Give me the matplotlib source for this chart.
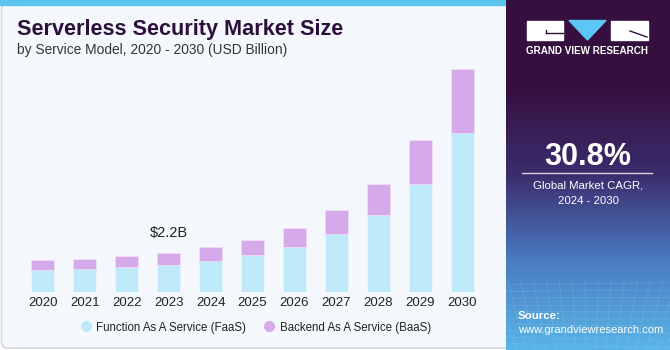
import numpy as np
import matplotlib.pyplot as plt
from matplotlib.patches import Rectangle, Polygon, FancyBboxPatch

plt.rcParams['font.family'] = ['Liberation Sans', 'DejaVu Sans']

years = ['2020', '2021', '2022', '2023', '2024', '2025', '2026', '2027', '2028', '2029', '2030']
faas = [1.21, 1.28, 1.38, 1.51, 1.73, 2.06, 2.53, 3.24, 4.33, 6.07, 8.97]
baas = [0.56, 0.58, 0.64, 0.69, 0.77, 0.88, 1.07, 1.36, 1.77, 2.48, 3.59]
series_names = ['Function As A Service (FaaS)', 'Backend As A Service (BaaS)']
colors = ['#bde9f8', '#d5a9ea']
callout_year = '2023'
callout_text = '$2.2B'

W, H = 670, 350
fig = plt.figure(figsize=(W / 100, H / 100), dpi=100)

# background drawn in pixel coordinates
bg = fig.add_axes([0, 0, 1, 1], zorder=0)
bg.set_xlim(0, W)
bg.set_ylim(H, 0)
bg.axis('off')
bg.add_patch(Rectangle((0, 0), W, H, color='white'))
bg.add_patch(FancyBboxPatch((1.5, 3), 510, 345, boxstyle='round,pad=0,rounding_size=6',
                            facecolor='#f4f8fc', edgecolor='#d5d9dd', lw=1.2))
bg.add_patch(Rectangle((0, 0), 505, 4.5, color='#5cc6ee'))

# right panel with gradient at the bottom
grad = np.linspace(0, 1, 100)[:, None]
cmap = plt.matplotlib.colors.LinearSegmentedColormap.from_list(
    'p', ['#35103f', '#35103f', '#3b2d6e', '#4a7cc0', '#58b4e6'])
bg.imshow(grad, cmap=cmap, extent=(506, 670, 350, 0), aspect='auto', zorder=1)
bg.set_xlim(0, W)
bg.set_ylim(H, 0)
panel = Rectangle((506, 0), 164, 350, transform=bg.transData)
for k in range(10):
    yy = 285 + k * 6.5
    ln, = bg.plot([506, 670], [yy, yy + (k - 3) * 0.8], color='#9ec8ee', lw=0.4, alpha=0.35, zorder=2)
    ln.set_clip_path(panel)
for k in range(18):
    xx = 506 + k * 10
    ln, = bg.plot([xx + (xx - 588) * 0.3, xx], [280, 350], color='#9ec8ee', lw=0.4, alpha=0.35, zorder=2)
    ln.set_clip_path(panel)

# logo
bg.add_patch(Rectangle((527, 20.5), 36, 19.5, color='white', zorder=3))
bg.plot([546, 563], [33, 33], color='#35103f', lw=1, zorder=4)
bg.plot([546, 546], [30, 33], color='#35103f', lw=1, zorder=4)
bg.add_patch(Polygon([(569, 20.5), (606, 20.5), (587.5, 40)], color='#5bc7f2', zorder=3))
bg.add_patch(Rectangle((611, 20.5), 37, 19.5, color='white', zorder=3))
bg.plot([630, 647], [31, 37], color='#35103f', lw=1, zorder=4)
bg.text(587.5, 51, 'GRAND VIEW RESEARCH', color='white', fontsize=7.1, fontweight='bold',
        ha='center', va='center', zorder=4)

bg.text(588, 157, '30.8%', color='white', fontsize=22, fontweight='bold',
        ha='center', va='center', zorder=4)
bg.plot([522, 652], [173, 173], color='#d9d0e0', lw=1, zorder=4)
bg.text(588, 185.5, 'Global Market CAGR,', color='white', fontsize=8.2, ha='center', va='center', zorder=4)
bg.text(588, 201, '2024 - 2030', color='white', fontsize=8.2, ha='center', va='center', zorder=4)
bg.text(518, 316, 'Source:', color='white', fontsize=8.2, fontweight='bold', ha='left', va='center', zorder=4)
bg.text(518, 330, 'www.grandviewresearch.com', color='white', fontsize=8, ha='left', va='center', zorder=4)

# titles
bg.text(17, 29, 'Serverless Security Market Size', color='#2d0f3c', fontsize=15.6,
        fontweight='bold', ha='left', va='center', zorder=4)
bg.text(17, 50, 'by Service Model, 2020 - 2030 (USD Billion)', color='#333333', fontsize=9.9,
        ha='left', va='center', zorder=4)

# chart
ax = fig.add_axes([13.4 / W, (H - 291.7) / H, (491.7 - 13.4) / W, 230 / H], zorder=2)
ax.patch.set_alpha(0)
x = np.arange(len(years))
ax.bar(x, faas, width=0.55, color=colors[0], edgecolor='#e6f5fb', lw=0.6, label=series_names[0])
ax.bar(x, baas, width=0.55, bottom=faas, color=colors[1], edgecolor='#eedcf6', lw=0.6,
       label=series_names[1])
ax.set_xlim(-0.7, 10.7)
ax.set_ylim(0, 13)
ax.set_xticks(x)
ax.set_xticklabels(years, fontsize=9.5, color='#222222')
ax.tick_params(axis='x', length=0, pad=4)
ax.set_yticks([])
for s in ax.spines.values():
    s.set_visible(False)

i = years.index(callout_year)
ax.text(x[i], faas[i] + baas[i] + 0.75, callout_text, ha='center', va='bottom',
        fontsize=10.5, color='#222222')

handles = [plt.Line2D([], [], marker='o', ls='', markersize=7, color=c) for c in colors]
fig.legend(handles, series_names, loc='center', bbox_to_anchor=(255 / W, (H - 327.5) / H),
           ncol=2, frameon=False, fontsize=8.3, handletextpad=0.3, columnspacing=1.4,
           handlelength=1.2, labelcolor='#222222')

plt.savefig('out.png', dpi=100)
